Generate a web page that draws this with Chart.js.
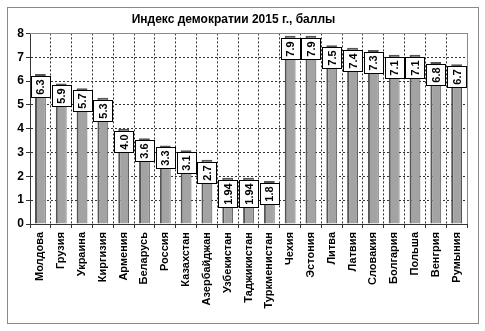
<!DOCTYPE html>
<html>
<head>
<meta charset="utf-8">
<script src="https://cdn.jsdelivr.net/npm/chart.js@4/dist/chart.umd.min.js"></script>
<style>
  html, body { margin: 0; padding: 0; background: #fff; }
  #wrap { position: relative; width: 485px; height: 331px; }
  #frame {
    position: absolute; left: 7px; top: 7px; width: 470px; height: 315px;
    border: 1px solid #8a8a8a; pointer-events: none;
  }
  canvas { position: absolute; left: 0; top: 0; }
</style>
</head>
<body>
<div id="wrap">
  <canvas id="chart" width="485" height="331"></canvas>
  <div id="frame"></div>
</div>
<script>
const countries = [
  "Молдова", "Грузия", "Украина", "Киргизия", "Армения", "Беларусь", "Россия",
  "Казахстан", "Азербайджан", "Узбекистан", "Таджикистан", "Туркменистан",
  "Чехия", "Эстония", "Литва", "Латвия", "Словакия", "Болгария", "Польша",
  "Венгрия", "Румыния"
];
const scores = [6.3, 5.9, 5.7, 5.3, 4.0, 3.6, 3.3, 3.1, 2.7, 1.94, 1.94, 1.8,
  7.9, 7.9, 7.5, 7.4, 7.3, 7.1, 7.1, 6.8, 6.7];
const scoreLabels = ["6.3", "5.9", "5.7", "5.3", "4.0", "3.6", "3.3", "3.1", "2.7",
  "1.94", "1.94", "1.8", "7.9", "7.9", "7.5", "7.4", "7.3", "7.1", "7.1", "6.8", "6.7"];
const yTicks = [0, 1, 2, 3, 4, 5, 6, 7, 8];

const FONT = "Arial, 'Liberation Sans', sans-serif";

// grey top/right edge of the plot area
const plotBorder = {
  id: "plotBorder",
  afterDraw(chart) {
    const { ctx, chartArea: a } = chart;
    ctx.save();
    ctx.strokeStyle = "#8a8a8a";
    ctx.lineWidth = 1;
    ctx.beginPath();
    ctx.moveTo(a.left, Math.round(a.top) + 0.5);
    ctx.lineTo(Math.round(a.right) + 0.5, Math.round(a.top) + 0.5);
    ctx.lineTo(Math.round(a.right) + 0.5, a.bottom);
    ctx.stroke();
    ctx.restore();
  }
};

// white boxed value labels, rotated, just under each bar top
const valueBoxes = {
  id: "valueBoxes",
  afterDatasetsDraw(chart) {
    const { ctx } = chart;
    const meta = chart.getDatasetMeta(0);
    ctx.save();
    ctx.font = "bold 11px " + FONT;
    meta.data.forEach((bar, i) => {
      const text = scoreLabels[i];
      const tw = ctx.measureText(text).width;
      const w = 19;
      const h = Math.round(tw + 6);
      const x = Math.round(bar.x - w / 2) + 0.5;
      const y = Math.round(bar.y + 2) + 0.5;
      ctx.fillStyle = "#fff";
      ctx.fillRect(x, y, w, h);
      ctx.strokeStyle = "#000";
      ctx.lineWidth = 1;
      ctx.strokeRect(x, y, w, h);
      ctx.save();
      ctx.translate(bar.x, y + h / 2);
      ctx.rotate(-Math.PI / 2);
      ctx.fillStyle = "#000";
      ctx.textAlign = "center";
      ctx.textBaseline = "middle";
      ctx.fillText(text, 0, 1);
      ctx.restore();
    });
    ctx.restore();
  }
};

new Chart(document.getElementById("chart"), {
  type: "bar",
  data: {
    labels: countries,
    datasets: [
      {
        data: scores,
        backgroundColor: "#a3a3a3",
        borderColor: "#555",
        borderWidth: { top: 2, left: 2, right: 1, bottom: 0 },
        borderSkipped: false,
        categoryPercentage: 1,
        barPercentage: 0.52,
      },
    ],
  },
  options: {
    responsive: false,
    animation: false,
    layout: { padding: { top: 0, right: 18, bottom: 0, left: 0 } },
    plugins: {
      legend: { display: false },
      tooltip: { enabled: false },
      title: {
        display: true,
        text: "Индекс демократии 2015 г., баллы",
        color: "#000",
        font: { family: FONT, size: 12, weight: "bold" },
        padding: { top: 12, bottom: 7 },
      },
    },
    scales: {
      x: {
        afterFit: (s) => { s.height = 107; },
        grid: {
          offset: true,
          color: "#333",
          tickLength: 4,
        },
        border: { display: true, color: "#333", width: 1, dash: [2, 2] },
        ticks: {
          color: "#000",
          font: { family: FONT, size: 11, weight: "bold" },
          minRotation: 90,
          maxRotation: 90,
          autoSkip: false,
          padding: 4,
        },
      },
      y: {
        min: 0,
        max: 8,
        afterFit: (s) => { s.width = 30; },
        afterBuildTicks: (s) => { s.ticks = yTicks.map((v) => ({ value: v })); },
        grid: { color: "#333", tickLength: 4 },
        border: { display: true, color: "#333", width: 1, dash: [2, 2] },
        ticks: {
          color: "#000",
          font: { family: FONT, size: 12, weight: "bold" },
          padding: 2,
        },
      },
    },
  },
  plugins: [plotBorder, valueBoxes],
});
</script>
</body>
</html>
